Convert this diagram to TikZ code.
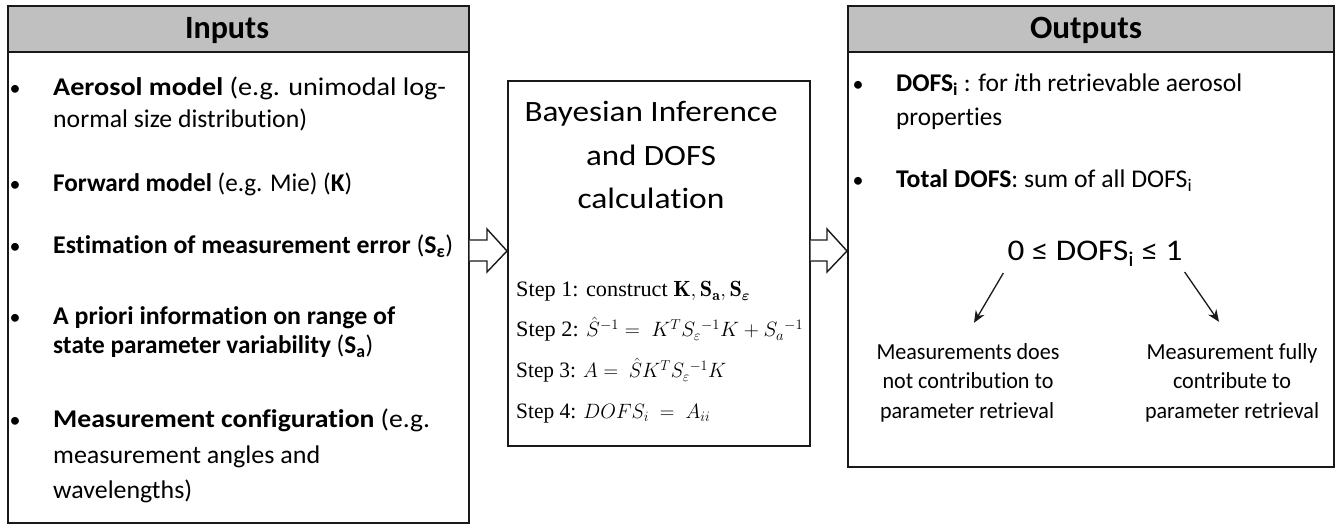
\documentclass[tikz,border=0pt]{standalone}
\usepackage{amsmath}
\usepackage{graphicx}
\usepackage{fontspec}
\setsansfont{Carlito}[Ligatures=NoCommon]
\newfontfamily\stepfont{Liberation Serif}
\usetikzlibrary{arrows.meta,calc}
\definecolor{hdrgray}{RGB}{192,192,192}
\definecolor{edge}{RGB}{25,25,25}
% set a line of text to a given width (in pt) by scaling it horizontally
\newsavebox\fitbox
\newcommand\fitw[2]{\sbox\fitbox{#2}\pgfmathsetmacro\fitr{#1/\wd\fitbox}\scalebox{\fitr}[1]{\usebox\fitbox}}
\tikzset{
  panel/.style={draw=edge, line width=1.6pt, fill=white, anchor=north west, inner sep=0pt},
  hdr/.style={draw=edge, line width=1.6pt, fill=hdrgray, anchor=north west, inner sep=0pt},
  hdrtext/.style={anchor=base, inner sep=0pt, font=\sffamily\bfseries\fontsize{32.5}{38}\selectfont},
  body/.style={anchor=base west, inner sep=0pt, text height=17pt, text depth=5pt, font=\sffamily\fontsize{25.5}{30}\selectfont},
  bul/.style={anchor=base, inner sep=0pt, font=\sffamily\fontsize{22}{26}\selectfont},
  lab/.style={anchor=base, inner sep=0pt, text height=15pt, text depth=4pt, font=\sffamily\fontsize{23}{26}\selectfont},
  big/.style={anchor=base, inner sep=0pt, font=\sffamily\fontsize{29.5}{34}\selectfont},
  stepline/.style={anchor=base west, inner sep=0pt, text height=15pt, text depth=4pt, font=\stepfont\fontsize{22}{25}\selectfont},
  blk/.style={draw=edge, line width=1.4pt, fill=white, line join=miter},
  pointer/.style={draw=edge, line width=1.3pt, -{Stealth[length=12pt,width=10pt]}}
}
\begin{document}
\begin{tikzpicture}[x=1pt,y=-1pt]
\useasboundingbox (0,0) rectangle (1336,526);

% ---------- Inputs panel ----------
\node[panel, minimum width=461pt, minimum height=517pt] (inbox) at (7,5) {};
\node[hdr, minimum width=461pt, minimum height=46pt] (inhead) at (7,5) {};
\node[hdrtext] (intitle) at (227,39) {\fitw{84}{Inputs}};

\node[bul] (ib1) at (15,96) {•};
\node[body] (i1a) at (53,96) {\fitw{393}{\textbf{Aerosol model} (e.g. unimodal log-}};
\node[body] (i1b) at (53,128) {\fitw{254}{normal size distribution)}};
\node[bul] (ib2) at (15,192) {•};
\node[body] (i2a) at (53,192) {\fitw{299}{\textbf{Forward model} (e.g. Mie) (\textbf{K})}};
\node[bul] (ib3) at (15,254) {•};
\node[body] (i3a) at (53,254) {\fitw{400}{\textbf{Estimation of measurement error} (\textbf{S\textsubscript{ε}})}};
\node[bul] (ib4) at (15,325) {•};
\node[body] (i4a) at (53,325) {\fitw{342}{\textbf{A priori information on range of}}};
\node[body] (i4b) at (53,354) {\fitw{320}{\textbf{state parameter variability} (\textbf{S\textsubscript{a}})}};
\node[bul] (ib5) at (15,428) {•};
\node[body] (i5a) at (53,428) {\fitw{377}{\textbf{Measurement configuration} (e.g.}};
\node[body] (i5b) at (53,463) {\fitw{267}{measurement angles and}};
\node[body] (i5c) at (53,498) {\fitw{139}{wavelengths)}};

% ---------- Bayesian inference panel ----------
\node[panel, minimum width=302pt, minimum height=365pt] (midbox) at (507,80) {};
\node[big] (m1) at (651,122) {\fitw{253}{Bayesian Inference}};
\node[big] (m2) at (651,166) {\fitw{130}{and DOFS}};
\node[big] (m3) at (651,209) {\fitw{147}{calculation}};
\node[stepline] (s1) at (516,297) {\fitw{234}{Step 1: construct $\mathbf{K}, \mathbf{S}_{\mathbf{a}}, \mathbf{S}_{\boldsymbol{\varepsilon}}$}};
\node[stepline] (s2) at (516,337) {\fitw{287}{Step 2: $\hat{S}^{-1} =\ K^{T}S_{\varepsilon}{}^{-1}K + S_{a}{}^{-1}$}};
\node[stepline] (s3) at (516,378) {\fitw{210}{Step 3: $A =\ \hat{S}K^{T}S_{\varepsilon}{}^{-1}K$}};
\node[stepline] (s4) at (516,418) {\fitw{194}{Step 4: $DOFS_{i}\ =\ A_{ii}$}};

% ---------- Outputs panel ----------
\node[panel, minimum width=486pt, minimum height=461pt] (outbox) at (847,5) {};
\node[hdr, minimum width=486pt, minimum height=46pt] (outhead) at (847,5) {};
\node[hdrtext] (outtitle) at (1086,39) {\fitw{112}{Outputs}};

\node[bul] (ob1) at (858,92) {•};
\node[body] (o1a) at (896,92) {\fitw{346}{\textbf{DOFS\textsubscript{i}} : for \textit{i}th retrievable aerosol}};
\node[body] (o1b) at (896,126) {\fitw{106}{properties}};
\node[bul] (ob2) at (858,188) {•};
\node[body] (o2a) at (896,188) {\fitw{296}{\textbf{Total DOFS}: sum of all DOFS\textsubscript{i}}};

\node[anchor=base, inner sep=0pt, font=\sffamily\fontsize{30}{36}\selectfont] (range) at (1095,261) {\fitw{175}{0 ≤ DOFS\textsubscript{i} ≤ 1}};

\node[lab] (l1) at (968,360) {\fitw{183}{Measurements does}};
\node[lab] (l2) at (968,389) {\fitw{171}{not contribution to}};
\node[lab] (l3) at (967,418) {\fitw{174}{parameter retrieval}};
\node[lab] (r1) at (1232,360) {\fitw{171}{Measurement fully}};
\node[lab] (r2) at (1232,389) {\fitw{118}{contribute to}};
\node[lab] (r3) at (1232,418) {\fitw{174}{parameter retrieval}};

\draw[pointer] ($(range.south west)+(-4,6)$) -- ($(l1.north)+(6,-22)$);
\draw[pointer] ($(range.south east)+(2,5)$) -- ($(r1.north)+(-13,-23)$);

% ---------- hollow block arrows between panels ----------
\coordinate (ya) at (0,251);
\path (inbox.east |- ya) coordinate (a1s) (midbox.west |- ya) coordinate (a1e);
\path (midbox.east |- ya) coordinate (a2s) (outbox.west |- ya) coordinate (a2e);
\foreach \s/\e in {a1s/a1e, a2s/a2e}{
  \draw[blk] ($(\s)+(0,-11)$) -- ($(\e)+(-20,-11)$) -- ($(\e)+(-20,-22)$) -- (\e)
    -- ($(\e)+(-20,21)$) -- ($(\e)+(-20,10)$) -- ($(\s)+(0,10)$);
}
\end{tikzpicture}
\end{document}
